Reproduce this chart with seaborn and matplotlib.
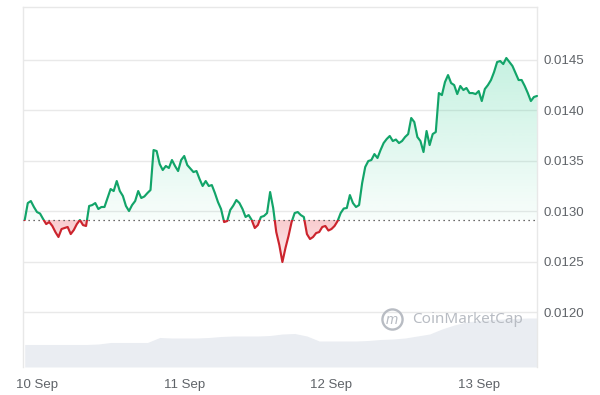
import matplotlib
matplotlib.use("Agg")
import matplotlib.pyplot as plt
import matplotlib.dates as mdates
import numpy as np
import pandas as pd
import seaborn as sns
from matplotlib.colors import to_rgb
from matplotlib.patches import PathPatch, Rectangle
from matplotlib.path import Path
from matplotlib.ticker import FormatStrFormatter

# price sampled every 30 min from 9 Sep 22:00
price_start = "2024-09-09 22:00"
prices = [
    0.012911, 0.013079, 0.013099, 0.013040, 0.012990, 0.012975, 0.012921, 0.012871, 0.012891, 0.012852,
    0.012792, 0.012743, 0.012822, 0.012832, 0.012842, 0.012772, 0.012812, 0.012871, 0.012911, 0.012861,
    0.012852, 0.013050, 0.013059, 0.013079, 0.013020, 0.013040, 0.013040, 0.013129, 0.013218, 0.013198,
    0.013297, 0.013198, 0.013149, 0.013050, 0.013000, 0.013059, 0.013099, 0.013198, 0.013129, 0.013144,
    0.013178, 0.013208, 0.013604, 0.013594, 0.013465, 0.013406, 0.013446, 0.013426, 0.013505, 0.013446,
    0.013396, 0.013505, 0.013545, 0.013455, 0.013421, 0.013386, 0.013396, 0.013317, 0.013248, 0.013297,
    0.013248, 0.013257, 0.013178, 0.013089, 0.013020, 0.012891, 0.012901, 0.013010, 0.013054, 0.013109,
    0.013079, 0.013020, 0.012941, 0.012960, 0.012911, 0.012832, 0.012861, 0.012941, 0.012951, 0.012980,
    0.013188, 0.013030, 0.012792, 0.012663, 0.012495, 0.012634, 0.012753, 0.012891, 0.012980, 0.012990,
    0.012960, 0.012941, 0.012772, 0.012723, 0.012743, 0.012782, 0.012792, 0.012842, 0.012852, 0.012807,
    0.012822, 0.012852, 0.012901, 0.012980, 0.013025, 0.013030, 0.013158, 0.013079, 0.013040, 0.013059,
    0.013277, 0.013436, 0.013495, 0.013505, 0.013564, 0.013525, 0.013604, 0.013673, 0.013713, 0.013743,
    0.013693, 0.013708, 0.013673, 0.013693, 0.013733, 0.013762, 0.013921, 0.013881, 0.013733, 0.013693,
    0.013584, 0.013792, 0.013653, 0.013762, 0.013782, 0.014168, 0.014148, 0.014277, 0.014346, 0.014267,
    0.014247, 0.014158, 0.014238, 0.014198, 0.014218, 0.014168, 0.014168, 0.014158, 0.014188, 0.014089,
    0.014208, 0.014247, 0.014297, 0.014376, 0.014475, 0.014485, 0.014455, 0.014515, 0.014475, 0.014436,
    0.014366, 0.014297, 0.014297, 0.014238, 0.014168, 0.014089, 0.014129, 0.014139,
]

# 24h volume (USD m) every 2 h from 9 Sep 22:00
volume_start = "2024-09-09 22:00"
volumes = [
    2.25, 2.25, 2.25, 2.25, 2.25, 2.25, 2.3, 2.45, 2.45, 2.45, 2.45,
    2.95, 2.9, 2.9, 2.9, 2.95, 3.05, 3.1, 3.1, 3.1, 3.15, 3.3, 3.35, 3.1,
    2.6, 2.6, 2.6, 2.6, 2.65, 2.75, 2.8, 2.9, 3.1, 3.3, 3.8, 4.2, 4.5,
    4.65, 4.75, 4.8, 4.85, 4.9, 4.9,
]

tick_days = ["2024-09-10", "2024-09-11", "2024-09-12", "2024-09-13"]
tick_labels = ["10 Sep", "11 Sep", "12 Sep", "13 Sep"]
y_ticks = [0.0120, 0.0125, 0.0130, 0.0135, 0.0140, 0.0145]

up_color = "#12a469"
down_color = "#cc242d"
label_color = "#5f6368"

sns.set_style("white")
plt.rcParams["font.family"] = ["Liberation Sans", "DejaVu Sans"]

times = pd.date_range(price_start, periods=len(prices), freq="30min")
vol_times = pd.date_range(volume_start, periods=len(volumes), freq="2h")
prices = np.array(prices)
base = prices[0]

x_min = pd.Timestamp("2024-09-09 21:43")
x_max = pd.Timestamp("2024-09-13 09:30")
y_min, y_max = 0.011456, 0.015020

fig = plt.figure(figsize=(6, 3.95), dpi=100)
ax = fig.add_axes([0.0383, 0.0709, 0.8567, 0.9114])
ax2 = ax.twinx()

# volume area behind the price
ax2.fill_between(vol_times, volumes, 0, color="#eaedf2", linewidth=0)
ax2.set_ylim(0, 36.0)
ax2.set_yticks([])
for s in ax2.spines.values():
    s.set_visible(False)
ax.set_zorder(ax2.get_zorder() + 1)
ax.patch.set_visible(False)

# price line, green above the open, red below
sns.lineplot(x=times, y=prices, ax=ax, color=up_color, linewidth=1.55, zorder=4)
up_line = ax.lines[-1]
sns.lineplot(x=times, y=prices, ax=ax, color=down_color, linewidth=1.55, zorder=4)
down_line = ax.lines[-1]

xa = mdates.date2num(x_min) - 1
xb = mdates.date2num(x_max) + 1
up_line.set_clip_path(Rectangle((xa, base), xb - xa, 1.0, transform=ax.transData))
down_line.set_clip_path(Rectangle((xa, base - 1.0), xb - xa, 1.0, transform=ax.transData))


def gradient_fill(mask, color, top, bottom, a_top, a_bottom):
    poly = ax.fill_between(times, prices, base, where=mask, interpolate=True,
                           facecolor="none", edgecolor="none")
    path = Path.make_compound_path(*poly.get_paths())
    patch = PathPatch(path, transform=ax.transData, facecolor="none", edgecolor="none")
    ax.add_patch(patch)
    rgba = np.zeros((256, 1, 4))
    rgba[..., :3] = to_rgb(color)
    rgba[:, 0, 3] = np.linspace(a_top, a_bottom, 256)
    im = ax.imshow(rgba, aspect="auto", origin="upper", zorder=2,
                   extent=[xa, xb, bottom, top], interpolation="bilinear")
    im.set_clip_path(patch)


gradient_fill(prices >= base, "#16c784", 0.01455, base, 0.25, 0.03)
gradient_fill(prices <= base, "#ea3943", base, 0.0125, 0.26, 0.10)

ax.axhline(base, color="#3a3a3a", linewidth=0.9, linestyle=(0, (1, 3)), zorder=3)

ax.set_xlim(x_min, x_max)
ax.set_ylim(y_min, y_max)

ax.set_yticks(y_ticks)
ax.yaxis.set_major_formatter(FormatStrFormatter("%.4f"))
ax.yaxis.tick_right()
ax.grid(axis="y", color="#e9e9e9", linewidth=1)
ax.grid(axis="x", visible=False)
ax.set_axisbelow(True)

ax.set_xticks(pd.to_datetime(tick_days))
ax.set_xticklabels(tick_labels)
ax.set_xlabel("")
ax.set_ylabel("")
ax.tick_params(axis="y", length=0, pad=5, labelsize=9.5, labelcolor=label_color)
ax.tick_params(axis="x", length=0, pad=9, labelsize=9.5, labelcolor=label_color)

for name in ["top", "left", "right"]:
    ax.spines[name].set_color("#e8e8e8")
    ax.spines[name].set_linewidth(1)
ax.spines["bottom"].set_visible(False)

# watermark
wm = "#b8bcc3"
ax.plot([0.717], [0.133], marker="o", markersize=14.5, mfc="none", mec=wm, mew=1.7,
        transform=ax.transAxes, zorder=5)
ax.text(0.717, 0.131, "m", transform=ax.transAxes, color=wm, fontsize=10.5,
        ha="center", va="center", style="italic", zorder=5)
ax.text(0.757, 0.133, "CoinMarketCap", transform=ax.transAxes, color=wm, fontsize=11,
        ha="left", va="center", family=["Noto Sans", "DejaVu Sans"], zorder=5)

fig.savefig("out.png", dpi=100)
